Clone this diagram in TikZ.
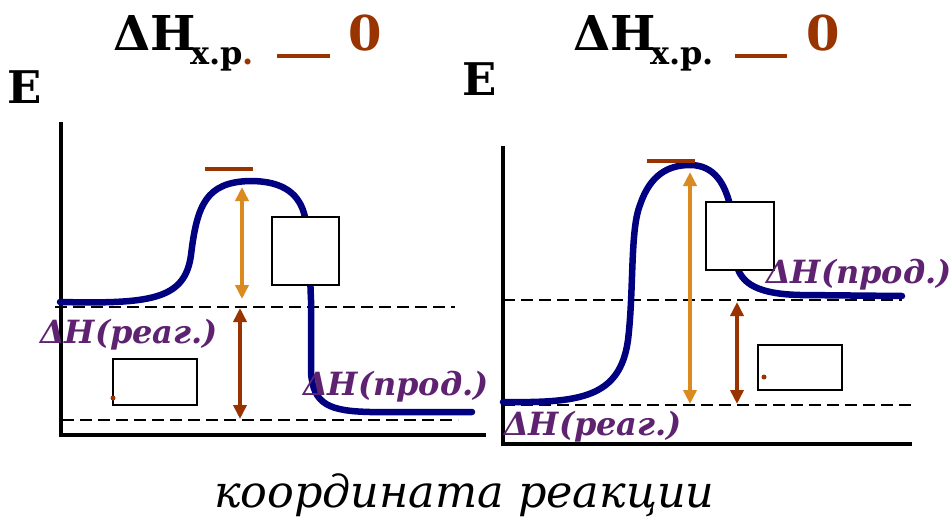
\documentclass[tikz,border=0pt]{standalone}
\usepackage{fontspec}
\setmainfont{DejaVu Serif}
\usetikzlibrary{arrows.meta}
\definecolor{navyc}{HTML}{000080}
\definecolor{brownc}{HTML}{993300}
\definecolor{orangec}{HTML}{DA8A1F}
\definecolor{purpc}{HTML}{5E2270}
\begin{document}
\begin{tikzpicture}[x=1pt,y=-1pt,inner sep=0pt,outer sep=0pt,
  ttl/.style={anchor=base west,font=\fontsize{48}{50}\selectfont\bfseries},
  subt/.style={anchor=base west,font=\fontsize{32}{34}\selectfont\bfseries},
  lbl/.style={anchor=base west,text=purpc,font=\fontsize{32}{34}\selectfont\bfseries\itshape},
  bigE/.style={anchor=base west,font=\fontsize{45}{48}\selectfont\bfseries},
  boxc/.style={draw=black,line width=2.5pt,fill=white},
  axisl/.style={line width=3.5pt,line cap=rect},
  dsh/.style={line width=2.2pt,dash pattern=on 12pt off 6pt},
  curvel/.style={navyc,line width=6.5pt,line cap=round},
  barl/.style={brownc,line width=4pt},
  oarr/.style={orangec,line width=3.8pt,{Triangle[width=13pt,length=14pt]}-{Triangle[width=13pt,length=14pt]}},
  barr/.style={brownc,line width=3.8pt,{Triangle[width=13pt,length=14pt]}-{Triangle[width=13pt,length=14pt]}}]
\useasboundingbox (0,0) rectangle (950,525);
\fill[white] (0,0) rectangle (950,525);

% ---------- titles ----------
\node[ttl] (t1) at (113,50) {ΔH};
\node[subt] (t1s) at (190,64) {х.р\textcolor{brownc}{.}};
\coordinate (u1a) at (277,56); \coordinate (u1b) at (330,56);
\draw[barl] (u1a) -- (u1b);
\node[ttl,text=brownc] (z1) at (348,50) {0};

\node[ttl] (t2) at (573,50) {ΔH};
\node[subt] (t2s) at (650,64) {х.р.};
\coordinate (u2a) at (735,56); \coordinate (u2b) at (787,56);
\draw[barl] (u2a) -- (u2b);
\node[ttl,text=brownc] (z2) at (806,50) {0};

\node[bigE] (e1) at (8,103) {E};
\node[bigE] (e2) at (462,95) {E};

% ---------- left diagram ----------
\coordinate (a1t) at (61,124); \coordinate (a1o) at (61,435); \coordinate (a1r) at (484,435);
\draw[axisl] (a1t) -- (a1o) -- (a1r);
\coordinate (d1a) at (55,307); \coordinate (d1b) at (455,307);
\coordinate (d2a) at (62,420); \coordinate (d2b) at (458,420);
\draw[dsh] (d1a) -- (d1b);
\draw[dsh] (d2a) -- (d2b);

\draw[curvel] (60,302) .. controls (150,304) and (185,300) .. (191,255)
  .. controls (197,205) and (206,182) .. (250,181)
  .. controls (285,181) and (300,195) .. (305,217)
  .. controls (310,245) and (310,280) .. (311,300)
  -- (311,372) .. controls (313,405) and (330,411) .. (370,412) -- (472,412);

\coordinate (pk1a) at (205,169); \coordinate (pk1b) at (253,169);
\draw[barl] (pk1a) -- (pk1b);
\coordinate (o1t) at (242,187); \coordinate (o1b) at (242,299);
\draw[oarr] (o1t) -- (o1b);
\coordinate (r1t) at (240,308); \coordinate (r1b) at (240,419);
\draw[barr] (r1t) -- (r1b);

\node[boxc,minimum width=67pt,minimum height=68pt] (b1) at (305.5,251) {};
\node[boxc,minimum width=84pt,minimum height=46pt] (s1) at (155,382) {};
\fill[brownc] (113,398) circle (2.5pt);

\node[lbl] (l1) at (40,343) {ΔН(реаг.)};
\node[lbl] (l2) at (303,395) {ΔН(прод.)};

% ---------- right diagram ----------
\coordinate (a2t) at (503,148); \coordinate (a2o) at (503,444); \coordinate (a2r) at (910,444);
\draw[axisl] (a2t) -- (a2o) -- (a2r);
\coordinate (d3a) at (503,300); \coordinate (d3b) at (902,300);
\coordinate (d4a) at (503,405); \coordinate (d4b) at (915,405);
\draw[dsh] (d3a) -- (d3b);
\draw[dsh] (d4a) -- (d4b);

\draw[curvel] (503,402) .. controls (580,403) and (620,398) .. (628,340)
  .. controls (634,290) and (630,230) .. (640,205)
  .. controls (650,175) and (668,165) .. (690,165)
  .. controls (715,165) and (725,185) .. (730,205)
  -- (736,262) .. controls (740,285) and (760,294) .. (800,295) -- (902,296);

\coordinate (pk2a) at (647,161); \coordinate (pk2b) at (695,161);
\draw[barl] (pk2a) -- (pk2b);
\coordinate (o2t) at (690,172); \coordinate (o2b) at (690,404);
\draw[oarr] (o2t) -- (o2b);
\coordinate (r2t) at (737,302); \coordinate (r2b) at (737,404);
\draw[barr] (r2t) -- (r2b);

\node[boxc,minimum width=68pt,minimum height=68pt] (b2) at (740,236) {};
\node[boxc,minimum width=84pt,minimum height=45pt] (s2) at (800,367.5) {};
\fill[brownc] (764,377) circle (2.5pt);

\node[lbl] (l3) at (766,283) {ΔН(прод.)};
\node[lbl] (l4) at (504,435) {ΔН(реаг.)};

% ---------- x label ----------
\node[anchor=base west,font=\fontsize{44.5}{46}\selectfont\itshape] (xl) at (214,507) {координата реакции};
\end{tikzpicture}
\end{document}
